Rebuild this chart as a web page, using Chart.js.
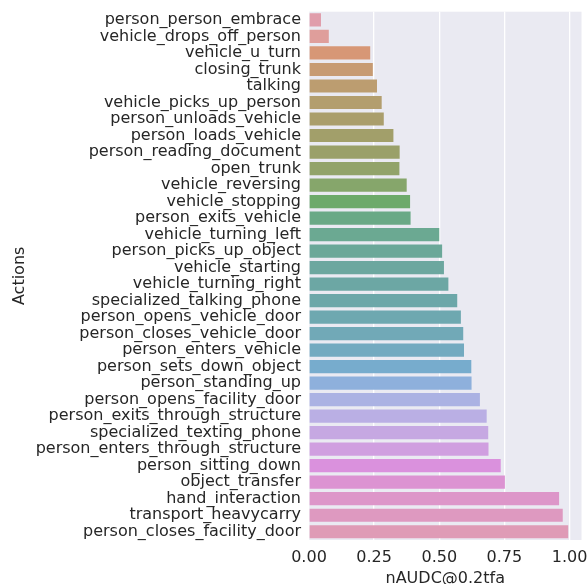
<!DOCTYPE html>
<html>
<head>
<meta charset="utf-8">
<script src="https://cdn.jsdelivr.net/npm/chart.js@4.4.1/dist/chart.umd.min.js"></script>
<style>
html,body{margin:0;padding:0;background:#ffffff;}
#wrap{width:588px;height:584px;}
</style>
</head>
<body>
<div id="wrap"><canvas id="c" width="588" height="584"></canvas></div>
<script>
const categories = [
  "person_person_embrace","vehicle_drops_off_person","vehicle_u_turn","closing_trunk","talking",
  "vehicle_picks_up_person","person_unloads_vehicle","person_loads_vehicle","person_reading_document",
  "open_trunk","vehicle_reversing","vehicle_stopping","person_exits_vehicle","vehicle_turning_left",
  "person_picks_up_object","vehicle_starting","vehicle_turning_right","specialized_talking_phone",
  "person_opens_vehicle_door","person_closes_vehicle_door","person_enters_vehicle","person_sets_down_object",
  "person_standing_up","person_opens_facility_door","person_exits_through_structure","specialized_texting_phone",
  "person_enters_through_structure","person_sitting_down","object_transfer","hand_interaction",
  "transport_heavycarry","person_closes_facility_door"
];
const values = [
  0.046,0.076,0.235,0.245,0.261,0.279,0.287,0.324,0.348,0.347,0.375,0.388,0.390,0.500,0.511,0.518,
  0.535,0.569,0.583,0.592,0.595,0.623,0.624,0.656,0.682,0.688,0.689,0.736,0.752,0.960,0.974,0.995
];
const xTickValues = [0, 0.25, 0.5, 0.75, 1.0];
const xAxisTitle = "nAUDC@0.2tfa";
const yAxisTitle = "Actions";

// seaborn-style husl palette (h=.01, s=.9, l=.65), desaturated and softened
function huslToRgb(H, S, L) {
  const m = [[3.2406,-1.5372,-0.4986],[-0.9689,1.8758,0.0415],[0.0557,-0.2040,1.0570]];
  const refU = 0.19784, refV = 0.46834, labE = 0.008856, labK = 903.3;
  function maxChroma(L, H) {
    const hr = H * Math.PI / 180, sinH = Math.sin(hr), cosH = Math.cos(hr);
    const sub1 = Math.pow(L + 16, 3) / 1560896;
    const sub2 = sub1 > labE ? sub1 : L / labK;
    let res = Infinity;
    for (const row of m) {
      const [m1, m2, m3] = row;
      const top = (0.99915*m1 + 1.05122*m2 + 1.14460*m3) * sub2;
      const rb = 0.86330*m3 - 0.17266*m2;
      const lb = 0.12949*m3 - 0.38848*m1;
      const bottom = (rb*sinH + lb*cosH) * sub2;
      for (const t of [0, 1]) {
        const C = L * (top - 1.05122*t) / (bottom + 0.17266*sinH*t);
        if (C > 0 && C < res) res = C;
      }
    }
    return res;
  }
  let C = maxChroma(L, H) / 100 * S;
  const hr = H * Math.PI / 180;
  const U = Math.cos(hr) * C, V = Math.sin(hr) * C;
  const fInv = t => (Math.pow(t,3) > labE ? Math.pow(t,3) : (116*t - 16) / labK);
  const Y = fInv((L + 16) / 116);
  const vU = U / (13*L) + refU, vV = V / (13*L) + refV;
  const X = 0 - (9*Y*vU) / ((vU - 4)*vV - vU*vV);
  const Z = (9*Y - 15*vV*Y - vV*X) / (3*vV);
  const fromLin = c => (c <= 0.0031308 ? 12.92*c : 1.055*Math.pow(c, 1/2.4) - 0.055);
  return m.map(r => Math.min(1, Math.max(0, fromLin(r[0]*X + r[1]*Y + r[2]*Z))));
}
function paletteColors(n, sat, alpha) {
  const bg = [234/255, 234/255, 242/255];
  const out = [];
  for (let i = 0; i < n; i++) {
    const h = ((i / n + 0.01) % 1) * 359;
    const rgb = huslToRgb(h, 0.9*99, 0.65*99);
    const mx = Math.max(...rgb), mn = Math.min(...rgb), l = (mx + mn) / 2;
    const d = rgb.map((c, k) => alpha * (l + sat * (c - l)) + (1 - alpha) * bg[k]);
    out.push('rgb(' + d.map(c => Math.round(c*255)).join(',') + ')');
  }
  return out;
}
const colors = paletteColors(categories.length, 0.62, 0.8);

const bgPlugin = {
  id: 'plotBg',
  beforeDraw(chart) {
    const {ctx, chartArea: a} = chart;
    ctx.save();
    ctx.fillStyle = '#EAEAF2';
    ctx.fillRect(a.left, a.top, a.right - a.left, a.bottom - a.top);
    ctx.restore();
  }
};

const FONT = "'DejaVu Sans', sans-serif";
const TXT = '#262626';

new Chart(document.getElementById('c'), {
  type: 'bar',
  data: {
    labels: categories,
    datasets: [{
      data: values,
      backgroundColor: colors,
      borderWidth: 0,
      barPercentage: 0.8,
      categoryPercentage: 1.0
    }]
  },
  plugins: [bgPlugin],
  options: {
    indexAxis: 'y',
    responsive: false,
    animation: false,
    devicePixelRatio: 1,
    layout: { padding: { top: 11.7, right: 6.5, bottom: 0, left: 0 } },
    plugins: { legend: { display: false }, tooltip: { enabled: false } },
    scales: {
      x: {
        type: 'linear',
        min: 0,
        max: 1.046,
        afterBuildTicks(scale) { scale.ticks = xTickValues.map(v => ({ value: v })); },
        afterFit(scale) { scale.height = 44; scale.paddingLeft = 0; scale.paddingRight = 0; },
        ticks: {
          includeBounds: false,
          color: TXT,
          font: { family: FONT, size: 16 },
          padding: 8,
          maxRotation: 0,
          callback: v => Number(v).toFixed(2)
        },
        grid: { color: '#ffffff', lineWidth: 1.3, drawTicks: false },
        border: { display: false },
        title: { display: true, text: xAxisTitle, color: TXT, font: { family: FONT, size: 16 }, padding: { top: 0, bottom: -4 } }
      },
      y: {
        afterFit(scale) { scale.width = 309; scale.paddingTop = 0; scale.paddingBottom = 0; },
        ticks: { color: TXT, font: { family: FONT, size: 16 }, padding: 8, autoSkip: false },
        grid: { display: false, drawTicks: false },
        border: { display: false },
        title: { display: true, text: yAxisTitle, color: TXT, font: { family: FONT, size: 16 }, padding: { top: 10, bottom: 0 } }
      }
    }
  }
});
</script>
</body>
</html>
